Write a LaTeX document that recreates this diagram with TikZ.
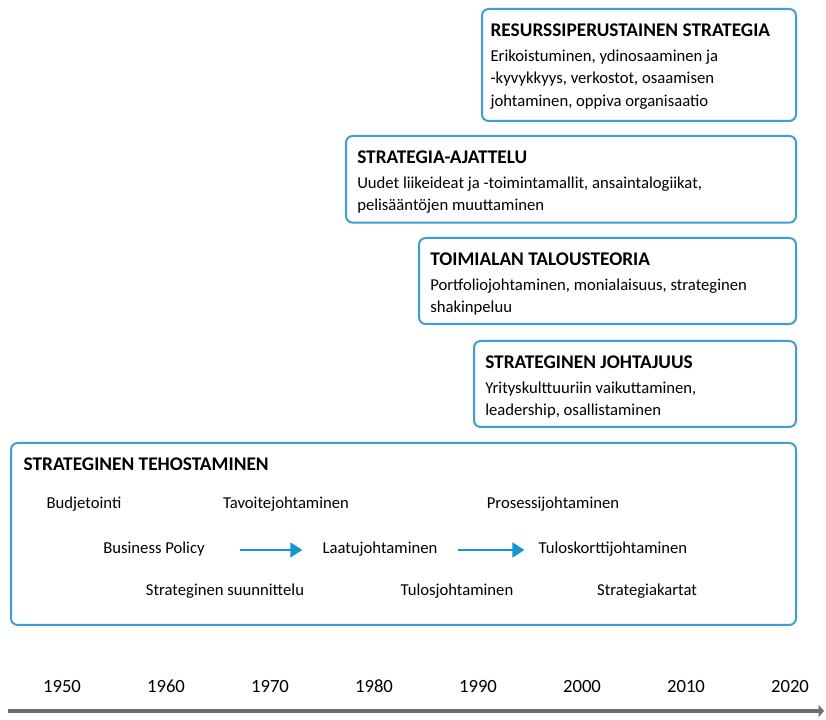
\documentclass[tikz,border=0pt]{standalone}
\usepackage{fontspec}
\setmainfont{Carlito}
\usetikzlibrary{positioning, arrows.meta}
\definecolor{boxblue}{RGB}{62,160,210}
\definecolor{arrowblue}{RGB}{20,150,210}
\definecolor{axisgray}{RGB}{110,110,110}

\begin{document}
\begin{tikzpicture}[
        x=0.75pt, y=-0.75pt,
        box/.style={draw=boxblue, line width=1.5pt, rounded corners=5pt, anchor=north west, inner sep=0pt},
        title/.style={font=\fontsize{14.5}{16}\selectfont\bfseries, anchor=north west, inner sep=0pt},
        body/.style={font=\fontsize{12.5}{17}\selectfont, anchor=north west, align=left, inner sep=0pt},
        item/.style={font=\fontsize{12.5}{14}\selectfont, inner sep=0pt, text height=1.6ex, text depth=0.5ex},
        year/.style={font=\fontsize{14}{16}\selectfont, inner sep=0pt, text height=1.5ex, text depth=0pt},
        arrow/.style={-{Triangle[length=9pt,width=11pt]}, arrowblue, line width=2pt}
    ]

    \useasboundingbox (0,0) rectangle (826,720);

    % Laatikot ylhaalta alas
    \node[box, minimum width=235.5pt, minimum height=84pt] (resurssi) at (481,8) {};
    \node[box, minimum width=337.5pt, minimum height=65pt] (ajattelu) at (345,135) {};
    \node[box, minimum width=282.75pt, minimum height=64.5pt] (talous) at (418,237) {};
    \node[box, minimum width=241.5pt, minimum height=64.5pt] (johtajuus) at (473,340) {};
    \node[box, minimum width=588.75pt, minimum height=136.5pt] (tehostus) at (10,442) {};

    % Otsikot ja tekstit
    \node[title] (resurssiT) [below right=12pt and 7pt of resurssi.north west] {RESURSSIPERUSTAINEN STRATEGIA};
    \node[body] (resurssiB) [below=9pt of resurssiT.south west, anchor=north west]
        {Erikoistuminen, ydinosaaminen ja\\-kyvykkyys, verkostot, osaamisen\\johtaminen, oppiva organisaatio};

    \node[title] (ajatteluT) [below right=12pt and 9pt of ajattelu.north west] {STRATEGIA-AJATTELU};
    \node[body] (ajatteluB) [below=9pt of ajatteluT.south west, anchor=north west]
        {Uudet liikeideat ja -toimintamallit, ansaintalogiikat,\\pelisääntöjen muuttaminen};

    \node[title] (talousT) [below right=12pt and 9pt of talous.north west] {TOIMIALAN TALOUSTEORIA};
    \node[body] (talousB) [below=9pt of talousT.south west, anchor=north west]
        {Portfoliojohtaminen, monialaisuus, strateginen\\shakinpeluu};

    \node[title] (johtajuusT) [below right=12pt and 9pt of johtajuus.north west] {STRATEGINEN JOHTAJUUS};
    \node[body] (johtajuusB) [below=9pt of johtajuusT.south west, anchor=north west]
        {Yrityskulttuuriin vaikuttaminen,\\leadership, osallistaminen};

    \node[title] (tehostusT) [below right=12pt and 10pt of tehostus.north west] {STRATEGINEN TEHOSTAMINEN};

    % Tehostamisen menetelmat
    \node[item] (budjetointi) at (84,505) {Budjetointi};
    \node[item] (tavoite) at (286,505) {Tavoitejohtaminen};
    \node[item] (prosessi) at (553,505) {Prosessijohtaminen};
    \node[item] (policy) at (154,550) {Business Policy};
    \node[item] (laatu) at (380,550) {Laatujohtaminen};
    \node[item] (tuloskortti) at (613,550) {Tuloskorttijohtaminen};
    \node[item] (suunnittelu) at (225,592) {Strateginen suunnittelu};
    \node[item] (tulos) at (457,592) {Tulosjohtaminen};
    \node[item] (kartat) at (647,592) {Strategiakartat};

    \draw[arrow, shorten <=26pt, shorten >=15pt] (policy) -- (laatu);
    \draw[arrow, shorten <=15pt, shorten >=10.5pt] (laatu) -- (tuloskortti);

    % Aikajana
    \foreach \vuosi [count=\i from 0] in {1950,1960,1970,1980,1990,2000,2010,2020}
        \node[year] (v\vuosi) at (62+104*\i, 688) {\vuosi};
    \coordinate (aluku) at (8,711);
    \coordinate (aloppu) at (824,711);
    \draw[axisgray, line width=3pt, -{Triangle[length=4pt,width=9pt]}] (aluku) -- (aloppu);

\end{tikzpicture}
\end{document}
